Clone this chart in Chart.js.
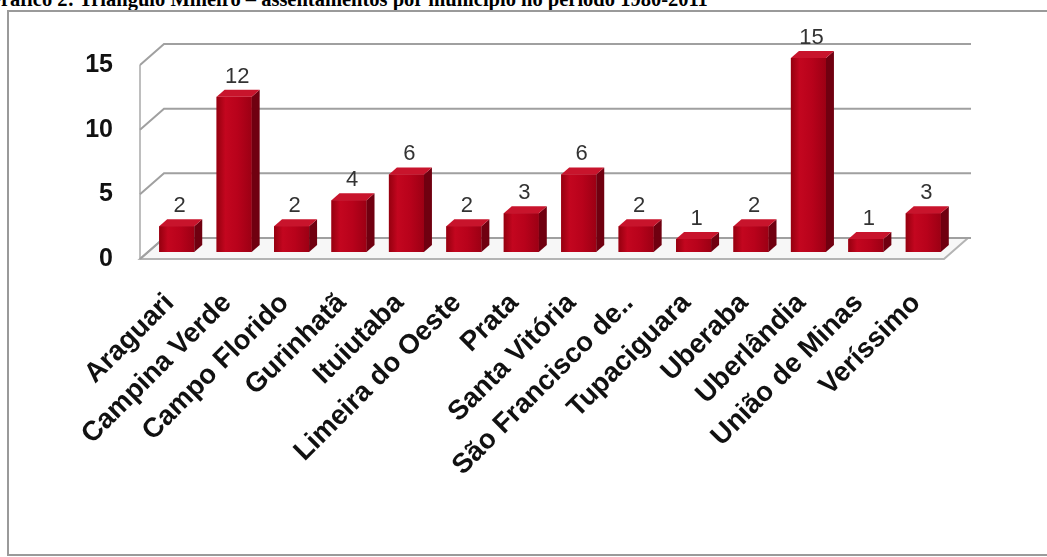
<!DOCTYPE html>
<html><head><meta charset="utf-8">
<script src="https://cdn.jsdelivr.net/npm/chart.js@4.4.0/dist/chart.umd.min.js"></script>
<style>
html,body{margin:0;padding:0;background:#fff;overflow:hidden}
#wrap{position:relative;width:1047px;height:557px;overflow:hidden;background:#fff}
#title{position:absolute;left:-15px;top:-12px;font:bold 20.5px "Liberation Serif","Times New Roman",serif;white-space:nowrap;color:#000}
#frame{position:absolute;left:7px;top:10px;width:1100px;height:546px;border:2px solid #9a9a9a;box-sizing:border-box}
canvas{position:absolute;left:0;top:0}
</style></head>
<body><div id="wrap"><div id="title">Gráfico 2: Triângulo Mineiro – assentamentos por município no período 1980-2011</div><div id="frame"></div><canvas id="c" width="1047" height="557"></canvas></div>
<script>
const categories = ["Araguari","Campina Verde","Campo Florido","Gurinhatã","Ituiutaba","Limeira do Oeste","Prata","Santa Vitória","São Francisco de..","Tupaciguara","Uberaba","Uberlândia","União de Minas","Veríssimo"];
const assentamentos = [2,12,2,4,6,2,3,6,2,1,2,15,1,3];
const yTicks = [0,5,10,15];

const DX = 8, DY = 7; // bar depth
const FX = -8, FY = 7; // front plane offset from bar plane
const BX = 16, BY = -14; // back wall offset from bar plane

const wallPlugin = {
  id: 'wall',
  beforeDatasetsDraw(chart) {
    const {ctx, chartArea: a, scales: {y}} = chart;
    ctx.save();
    const y0 = y.getPixelForValue(0);
    ctx.beginPath();
    ctx.moveTo(a.left + FX, y0 + FY);
    ctx.lineTo(a.right + FX, y0 + FY);
    ctx.lineTo(a.right + BX, y0 + BY);
    ctx.lineTo(a.left + BX, y0 + BY);
    ctx.closePath();
    ctx.fillStyle = '#f7f7f7';
    ctx.fill();
    ctx.strokeStyle = '#b4b4b4';
    ctx.lineWidth = 2;
    ctx.stroke();
    ctx.strokeStyle = '#a8a8a8';
    ctx.lineWidth = 1.5;
    ctx.beginPath();
    ctx.moveTo(a.left + FX, y0 + FY);
    ctx.lineTo(a.left + FX, y.getPixelForValue(yTicks[yTicks.length-1]) + FY);
    ctx.stroke();
    yTicks.forEach(v => {
      const p = y.getPixelForValue(v);
      ctx.beginPath();
      ctx.moveTo(a.left + FX, p + FY);
      ctx.lineTo(a.left + BX, p + BY);
      ctx.lineTo(a.right + BX + 3, p + BY);
      ctx.strokeStyle = '#a0a0a0';
      ctx.lineWidth = 2;
      ctx.stroke();
    });
    ctx.restore();
  },
  afterDatasetsDraw(chart) {
    const {ctx} = chart;
    const meta = chart.getDatasetMeta(0);
    ctx.save();
    meta.data.forEach((el, i) => {
      const w = el.width, l = el.x - w/2, r = el.x + w/2, t = el.y, b = el.base;
      const g = ctx.createLinearGradient(l, 0, r, 0);
      g.addColorStop(0, '#95000f');
      g.addColorStop(0.25, '#c3061f');
      g.addColorStop(0.6, '#b8021b');
      g.addColorStop(1, '#9c0014');
      ctx.fillStyle = g;
      ctx.fillRect(l, t, w, b - t);
      ctx.beginPath();
      ctx.moveTo(r, t); ctx.lineTo(r + DX, t - DY); ctx.lineTo(r + DX, b - DY); ctx.lineTo(r, b); ctx.closePath();
      ctx.fillStyle = '#700010'; ctx.fill();
      ctx.beginPath();
      ctx.moveTo(l, t); ctx.lineTo(r, t); ctx.lineTo(r + DX, t - DY); ctx.lineTo(l + DX, t - DY); ctx.closePath();
      ctx.fillStyle = '#c8142c'; ctx.fill();
      ctx.font = '22px "Liberation Sans", Arial, sans-serif';
      ctx.fillStyle = '#333';
      ctx.textAlign = 'center';
      ctx.textBaseline = 'middle';
      ctx.fillText(String(assentamentos[i]), el.x + 3, t - 20);
    });
    ctx.restore();
  }
};

new Chart(document.getElementById('c'), {
  type: 'bar',
  data: {
    labels: categories,
    datasets: [{
      data: assentamentos,
      backgroundColor: '#b3001b',
      borderWidth: 0,
      barPercentage: 0.61,
      categoryPercentage: 1
    }]
  },
  options: {
    responsive: false,
    animation: false,
    layout: {padding: {left: 0, top: 58, right: 95, bottom: 0}},
    plugins: {legend: {display: false}, tooltip: {enabled: false}},
    scales: {
      x: {
        grid: {display: false, drawTicks: false},
        border: {display: false},
        ticks: {
          autoSkip: false, minRotation: 45, maxRotation: 45,
          padding: 35, labelOffset: -7, color: '#111',
          font: {family: '"Liberation Sans", Arial, sans-serif', size: 27.5, weight: 'bold'}
        },
        afterFit(s) { s.height = 305; }
      },
      y: {
        min: 0, max: 15,
        grid: {display: false, drawTicks: false},
        border: {display: false},
        afterBuildTicks(s) { s.ticks = yTicks.map(v => ({value: v})); },
        ticks: {
          padding: 35, labelOffset: 7, color: '#111',
          font: {family: '"Liberation Sans", Arial, sans-serif', size: 25, weight: 'bold'}
        },
        afterFit(s) { s.width = 148; }
      }
    }
  },
  plugins: [wallPlugin]
});
</script>
</body></html>
